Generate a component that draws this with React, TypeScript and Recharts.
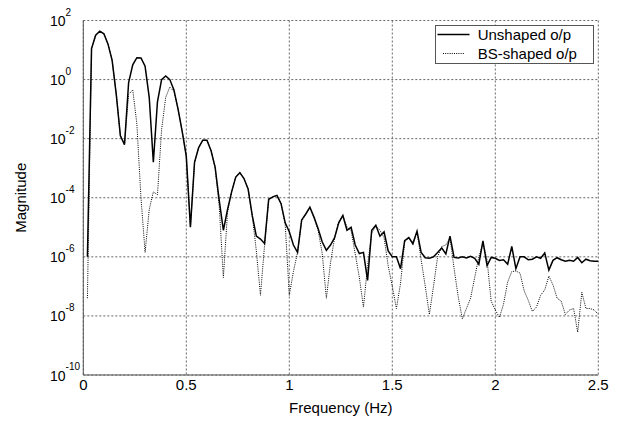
import React from 'react';
import { LineChart, Line, XAxis, YAxis, CartesianGrid, Legend } from 'recharts';

// Frequency samples (Hz)
const frequencies: number[] = Array.from({ length: 125 }, (_, i) => Math.round((i + 1) * 2) / 100);

// Magnitude, stored as log10(magnitude)
const unshapedLog10: number[] = [
  -6.0, 1.05, 1.5, 1.64, 1.55, 1.2, 0.65, -0.5, -1.9, -2.2, -0.1, 0.5, 0.74, 0.73, 0.45, -0.6, -2.8, -0.75, 0.0, 0.12, 0.0, -0.35, -1.0, -1.75, -2.6,
  -5.0, -2.8, -2.3, -2.05, -2.05, -2.4, -2.97, -4.1, -5.1, -4.4, -3.8, -3.3, -3.15, -3.35, -3.7, -4.6, -5.3, -5.4, -5.55, -4.05, -3.97, -3.92, -4.2, -4.85, -5.15,
  -5.6, -5.85, -4.75, -4.55, -4.32, -4.65, -5.05, -5.5, -5.78, -5.6, -5.35, -4.85, -4.6, -5.1, -5.0, -5.6, -5.89, -5.85, -6.8, -5.1, -4.93, -5.3, -5.15, -5.8, -6.0,
  -6.0, -6.4, -5.45, -5.35, -5.55, -5.13, -5.85, -6.03, -6.05, -6.0, -5.85, -5.7, -5.9, -5.3, -6.02, -6.04, -6.0, -6.04, -5.98, -6.05, -6.25, -5.46, -6.3, -6.02, -6.05,
  -6.12, -6.1, -6.25, -5.65, -6.4, -6.0, -6.0, -6.1, -6.08, -6.0, -6.05, -5.87, -6.45, -6.12, -6.03, -6.1, -6.15, -6.12, -6.15, -6.02, -6.2, -6.08, -6.13, -6.15, -6.15,
];

const bsShapedLog10: number[] = [
  -7.4, 1.05, 1.5, 1.64, 1.55, 1.2, 0.65, -0.5, -1.9, -2.2, -0.5, -0.35, -1.5, -4.0, -5.85, -4.4, -3.8, -3.9, -1.7, -0.6, -0.25, -0.4, -1.0, -1.75, -2.6,
  -5.0, -2.8, -2.3, -2.05, -2.05, -2.4, -2.97, -4.3, -6.7, -4.5, -3.8, -3.3, -3.15, -3.35, -3.7, -4.6, -5.8, -7.3, -5.6, -4.05, -3.97, -3.92, -4.2, -4.9, -7.3,
  -6.5, -5.85, -4.8, -4.55, -4.35, -4.7, -5.1, -5.9, -7.4, -6.2, -5.35, -4.8, -4.6, -5.0, -5.1, -5.9, -6.7, -7.7, -6.3, -5.2, -4.95, -5.1, -5.35, -6.3, -7.0,
  -7.75, -6.9, -5.5, -5.35, -5.6, -5.15, -6.1, -7.0, -7.95, -7.0, -6.0, -5.65, -5.6, -5.35, -6.4, -7.35, -8.1, -7.75, -7.4, -6.7, -6.0, -5.55, -6.1, -7.5, -7.8,
  -8.05, -7.6, -6.85, -6.5, -6.48, -6.55, -7.15, -7.47, -7.85, -7.7, -7.3, -7.12, -6.65, -6.95, -7.4, -7.5, -7.95, -7.8, -7.75, -8.55, -7.2, -7.75, -7.75, -7.8, -7.95,
];

const xTicks: number[] = [0, 0.5, 1, 1.5, 2, 2.5];
const yTickExponents: number[] = [-10, -8, -6, -4, -2, 0, 2];
const seriesNames: string[] = ['Unshaped o/p', 'BS-shaped o/p'];
const xAxisTitle = 'Frequency (Hz)';
const yAxisTitle = 'Magnitude';

const data = frequencies.map((f, i) => ({ f, unshaped: unshapedLog10[i], bs: bsShapedLog10[i] }));

const FONT = '"Liberation Sans", Arial, Helvetica, sans-serif';
const AXIS_COLOR = '#555';

const YTick = (props: any) => {
  const { x, y, payload } = props;
  return (
    <text x={x - 33.3} y={y + 5.5} fontSize={14} fontFamily={FONT} fill="#000" textAnchor="start">
      10
      <tspan dy={-10.5} fontSize={10}>{payload.value}</tspan>
    </text>
  );
};

const XTick = (props: any) => {
  const { x, y, payload } = props;
  return (
    <text x={x} y={y + 15} fontSize={15} fontFamily={FONT} fill="#000" textAnchor="middle">
      {String(payload.value)}
    </text>
  );
};

const XTitle = (props: any) => {
  const vb = props.viewBox || {};
  return (
    <text x={vb.x + vb.width / 2} y={vb.y + 38} fontSize={15} fontFamily={FONT} fill="#000" textAnchor="middle">
      {xAxisTitle}
    </text>
  );
};

const YTitle = (props: any) => {
  const vb = props.viewBox || {};
  const cx = 18;
  const cy = vb.y + vb.height / 2;
  return (
    <text x={cx} y={cy} fontSize={15} fontFamily={FONT} fill="#000" textAnchor="middle" transform={`rotate(-90, ${cx}, ${cy})`}>
      {yAxisTitle}
    </text>
  );
};

const LegendBox = () => (
  <svg width={160} height={40} style={{ display: 'block' }}>
    <rect x={0.5} y={0.5} width={158} height={38} fill="#fff" stroke={AXIS_COLOR} strokeWidth={1} />
    <line x1={2.5} x2={34.5} y1={9.5} y2={9.5} stroke="#000" strokeWidth={1.5} />
    <line x1={8} x2={30} y1={28.5} y2={28.5} stroke="#000" strokeWidth={1} strokeDasharray="1 1.2" />
    <text x={42.7} y={15} fontSize={15} fontFamily={FONT} fill="#000">{seriesNames[0]}</text>
    <text x={42.7} y={34} fontSize={15} fontFamily={FONT} fill="#000">{seriesNames[1]}</text>
  </svg>
);

export default function App() {
  return (
    <div style={{ width: 613, height: 413, background: '#fff' }}>
      <LineChart width={613} height={413} data={data} margin={{ top: 12.5, right: 22.7, bottom: 0, left: 0 }}>
        <CartesianGrid stroke="#666" strokeDasharray="2 2" strokeWidth={1} />
        <XAxis
          dataKey="f"
          type="number"
          domain={[0, 2.5]}
          ticks={xTicks}
          height={46}
          tickSize={0}
          tickMargin={0}
          tickLine={false}
          axisLine={{ stroke: AXIS_COLOR }}
          tick={<XTick />}
          label={{ content: <XTitle /> }}
          allowDataOverflow
        />
        <XAxis
          xAxisId="top"
          orientation="top"
          type="number"
          domain={[0, 2.5]}
          height={0}
          tick={false}
          tickLine={false}
          axisLine={{ stroke: AXIS_COLOR }}
        />
        <YAxis
          type="number"
          domain={[-10, 2]}
          ticks={yTickExponents}
          width={75.3}
          tickSize={0}
          tickMargin={0}
          tickLine={false}
          axisLine={{ stroke: AXIS_COLOR }}
          tick={<YTick />}
          label={{ content: <YTitle /> }}
          allowDataOverflow
        />
        <YAxis
          yAxisId="right"
          orientation="right"
          type="number"
          domain={[-10, 2]}
          width={0}
          tick={false}
          tickLine={false}
          axisLine={{ stroke: AXIS_COLOR }}
        />
        <Legend
          layout="horizontal"
          verticalAlign="middle"
          align="center"
          wrapperStyle={{ position: 'absolute', left: 427, top: 17, width: 160, height: 40 }}
          content={<LegendBox />}
        />
        <Line
          type="linear"
          dataKey="bs"
          name={seriesNames[1]}
          stroke="#000"
          strokeWidth={1}
          strokeDasharray="1 1.2"
          dot={false}
          isAnimationActive={false}
        />
        <Line
          type="linear"
          dataKey="unshaped"
          name={seriesNames[0]}
          stroke="#000"
          strokeWidth={1.5}
          dot={false}
          isAnimationActive={false}
        />
      </LineChart>
    </div>
  );
}
